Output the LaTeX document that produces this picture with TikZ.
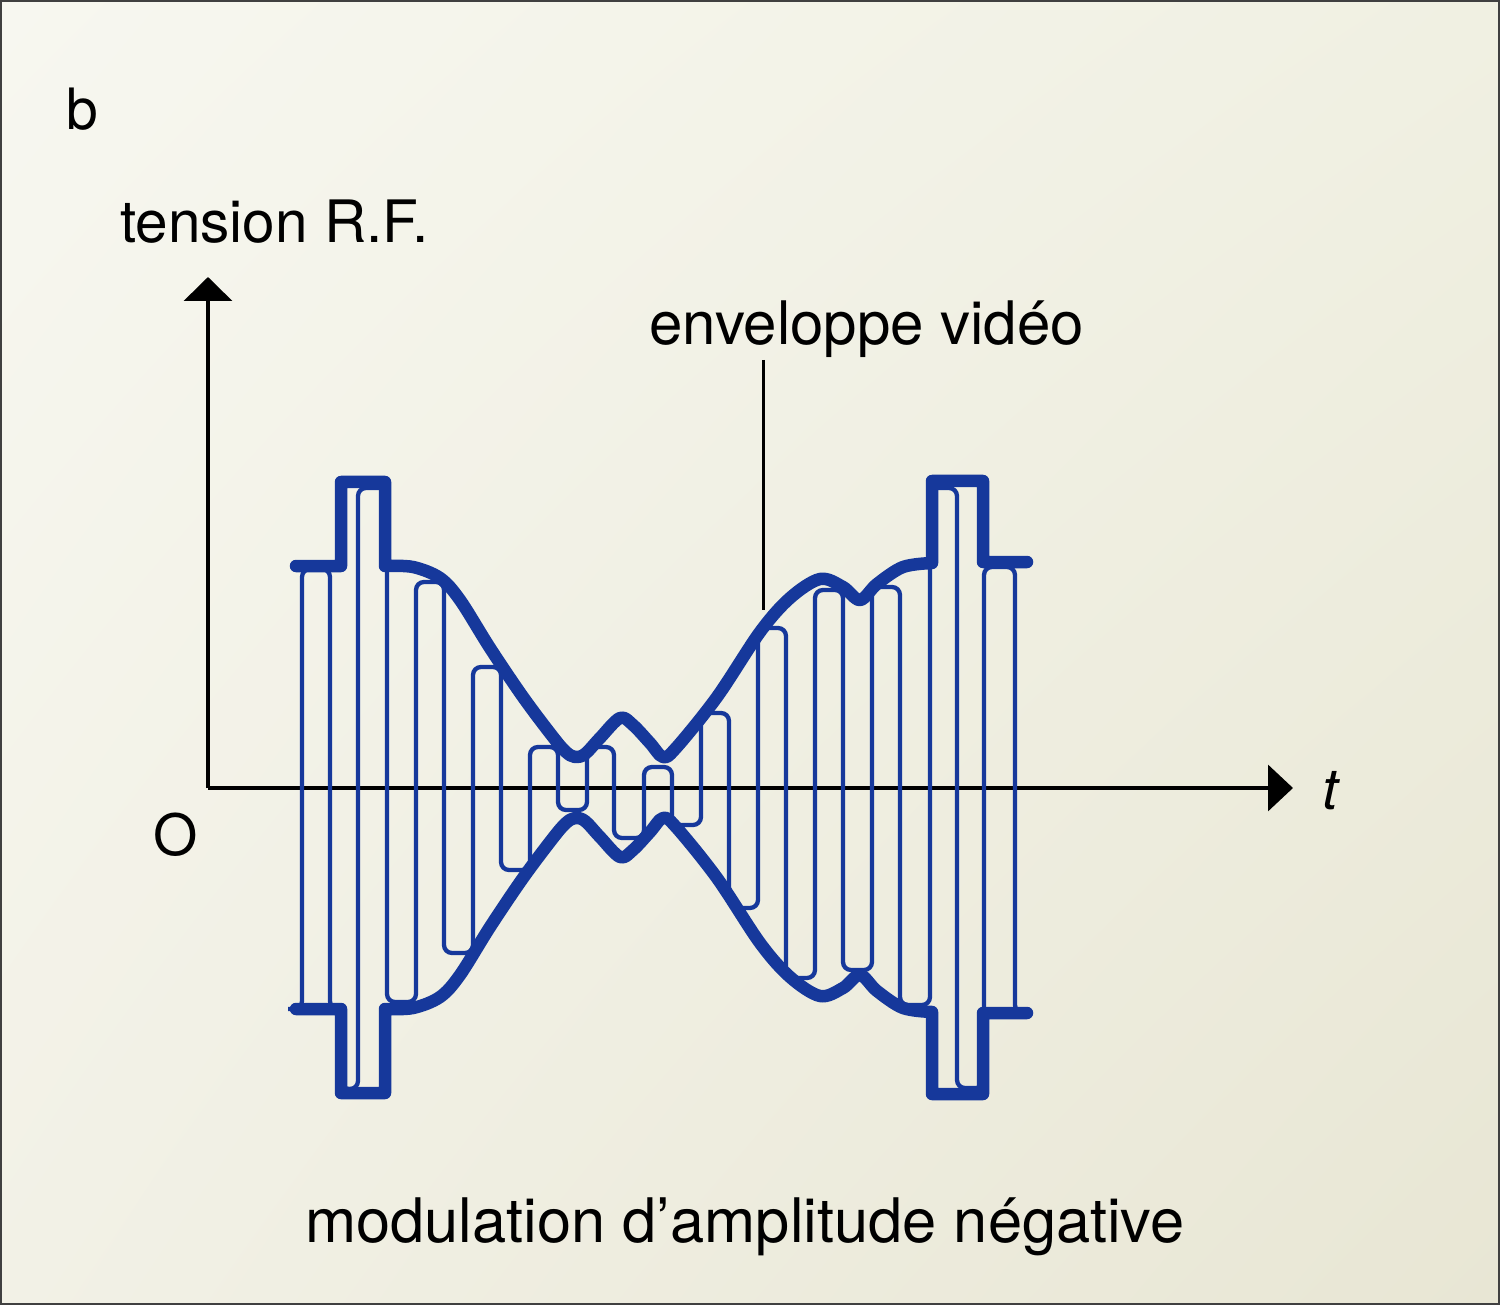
\documentclass[tikz,border=0pt]{standalone}
\usepackage{fontspec}
\setmainfont{TeX Gyre Heros}
\usetikzlibrary{arrows.meta,shadings}
\definecolor{sigblue}{RGB}{22,56,155}
\definecolor{bgTL}{RGB}{247,247,240}
\definecolor{bgTR}{RGB}{240,240,226}
\definecolor{bgBL}{RGB}{242,241,230}
\definecolor{bgBR}{RGB}{232,230,212}
\newcommand\envpath{(296,566) -- (341,566) -- (341,482) -- (385,482) -- (385,566)
  -- plot[smooth,tension=0.55] coordinates {(385,566) (413,567) (440,578) (460,600) (490,648) (523,697) (553,737) (566,752) (575,757) (585,754) (600,738) (620,718) (633,725) (650,743) (663,757) (676,748) (717,697) (760,632) (790,598) (820,579) (843,587) (860,600) (877,584) (903,567) (932,563)}
  -- (932,481) -- (983,481) -- (983,562) -- (1027,562)}
\begin{document}
\begin{tikzpicture}[x=1pt,y=-1pt,
  lbl/.style={inner sep=0pt, text=black},
  axisline/.style={line width=3.6pt, draw=black},
  envline/.style={line width=12.5pt, draw=sigblue, line join=round, line cap=round},
  carrier/.style={line width=4.3pt, draw=sigblue, rounded corners=8pt},
  pointer/.style={line width=3pt, draw=black}]
\useasboundingbox (0,0) rectangle (1500,1305);
\shade[upper left=bgTL, upper right=bgTR, lower left=bgBL, lower right=bgBR] (0,0) rectangle (1500,1305);
\draw[line width=2pt, draw=black!75] (1,1) rectangle (1499,1304);

% labels
\node[lbl, font=\fontsize{57}{60}\selectfont, anchor=base west] (b) at (66,130) {b};
\node[lbl, font=\fontsize{58.5}{62}\selectfont, anchor=base west] (tens) at (120,243) {tension R.F.};
\node[lbl, font=\fontsize{60}{64}\selectfont, anchor=base west] (env) at (649,345) {enveloppe vidéo};
\node[lbl, font=\fontsize{61.4}{66}\selectfont, anchor=base west] (cap) at (305,1242) {modulation d’amplitude négative};
\node[lbl, font=\fontsize{57}{60}\selectfont] (O) at (176,835) {O};
\node[lbl, font=\fontsize{57}{60}\selectfont\itshape] (t) at (1330,791) {t};

% axes
\coordinate (orig) at (208,788);
\coordinate (ytip) at (208,277);
\coordinate (xtip) at (1293,788);
\draw[axisline, -{Triangle[width=48pt,length=24pt]}] (orig) -- (ytip);
\draw[axisline, -{Triangle[width=46pt,length=25pt]}] (orig) -- (xtip);

% carrier (meander)
\draw[carrier] (288,1009) -- (302,1009) -- (302,569) -- (330,569) -- (330,1009) -- (341,1009) -- (341,1089) -- (358,1089) -- (358,488) -- (387,488)
  -- (387,1002) -- (416,1002) -- (416,582) -- (444,582) -- (444,953) -- (473,953) -- (473,667) -- (501,667)
  -- (501,870) -- (530,870) -- (530,747) -- (558,747) -- (558,810) -- (587,810) -- (587,747) -- (614,747)
  -- (614,838) -- (644,838) -- (644,767) -- (672,767) -- (672,825) -- (701,825) -- (701,713) -- (729,713)
  -- (729,908) -- (758,908) -- (758,628) -- (786,628) -- (786,978) -- (815,978) -- (815,590) -- (843,590)
  -- (843,970) -- (872,970) -- (872,587) -- (900,587) -- (900,1005) -- (930,1005) -- (930,488) -- (957,488)
  -- (957,1088) -- (984,1088) -- (984,567) -- (1015,567) -- (1015,1013) -- (1029,1013);

% envelope (top and mirrored bottom)
\draw[envline] \envpath;
\begin{scope}[shift={(0,1575)}, yscale=-1]
\draw[envline] \envpath;
\end{scope}

% pointer
\coordinate (pTop) at (763,360);
\coordinate (pBot) at (763,610);
\draw[pointer] (pTop) -- (pBot);
\end{tikzpicture}
\end{document}
